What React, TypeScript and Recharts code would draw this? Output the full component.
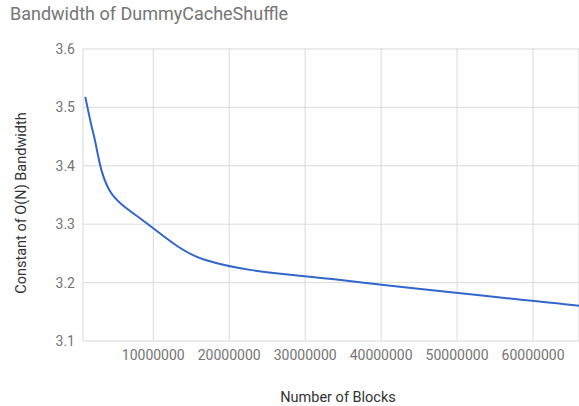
import { LineChart, Line, XAxis, YAxis, CartesianGrid } from 'recharts'

// 数据：块数量（2 的幂）与带宽常数
const blocks = [1048576, 2097152, 4194304, 8388608, 16777216, 33554432, 67108864]
const constants = [3.518, 3.456, 3.359, 3.309, 3.239, 3.206, 3.159]
const xTicks = [10000000, 20000000, 30000000, 40000000, 50000000, 60000000]
const yTicks = [3.1, 3.2, 3.3, 3.4, 3.5, 3.6]

const data = blocks.map((b, i) => ({ blocks: b, value: constants[i] }))

const FONT = 'Roboto, "Noto Sans", sans-serif'

// 平滑曲线：控制点沿相邻点方向，长度按本段长度的比例
function smoothCurve(context: any) {
  let pts: number[][] = []
  const f = 0.33
  const dir = (a: number[], b: number[]) => {
    const dx = b[0] - a[0]
    const dy = b[1] - a[1]
    const len = Math.hypot(dx, dy) || 1
    return [dx / len, dy / len]
  }
  return {
    areaStart() {},
    areaEnd() {},
    lineStart() { pts = [] },
    point(x: number, y: number) { pts.push([+x, +y]) },
    lineEnd() {
      const n = pts.length
      if (!n) return
      context.moveTo(pts[0][0], pts[0][1])
      for (let i = 0; i < n - 1; i++) {
        const p0 = pts[i - 1] || pts[i]
        const p1 = pts[i]
        const p2 = pts[i + 1]
        const p3 = pts[i + 2] || p2
        const h = Math.hypot(p2[0] - p1[0], p2[1] - p1[1]) * f
        const d1 = dir(p0, p2)
        const d2 = dir(p1, p3)
        context.bezierCurveTo(
          p1[0] + d1[0] * h, p1[1] + d1[1] * h,
          p2[0] - d2[0] * h, p2[1] - d2[1] * h,
          p2[0], p2[1]
        )
      }
    }
  }
}

export default function App() {
  return (
    <div style={{ position: 'absolute', left: 0, top: 0, width: 579, height: 406, background: '#fff', fontFamily: FONT }}>
      <div style={{ position: 'absolute', left: 10, top: 3, fontSize: 18, color: '#757575', whiteSpace: 'nowrap' }}>
        Bandwidth of DummyCacheShuffle
      </div>
      <div
        style={{
          position: 'absolute', left: 21, top: 203, fontSize: 14.5, color: '#333',
          whiteSpace: 'nowrap', transform: 'translate(-50%, -50%) rotate(-90deg)'
        }}
      >
        Constant of O(N) Bandwidth
      </div>
      <div
        style={{
          position: 'absolute', left: 338, top: 397, fontSize: 14.5, color: '#333',
          whiteSpace: 'nowrap', transform: 'translate(-50%, -50%)'
        }}
      >
        Number of Blocks
      </div>
      <LineChart width={579} height={406} data={data} margin={{ top: 49, right: 0, left: 43, bottom: 0 }}>
        <CartesianGrid stroke="#d9d9d9" strokeWidth={1} />
        <XAxis
          dataKey="blocks"
          type="number"
          domain={[750000, 66050000]}
          allowDataOverflow
          ticks={xTicks}
          tickLine={false}
          axisLine={false}
          height={65}
          tickMargin={3}
          tick={{ fontSize: 14, fill: '#757575', fontFamily: FONT }}
          interval={0}
        />
        <YAxis
          type="number"
          domain={[3.1, 3.6]}
          ticks={yTicks}
          tickFormatter={(v: number) => v.toFixed(1)}
          tickLine={false}
          axisLine={false}
          width={40}
          tick={{ fontSize: 14, fill: '#757575', fontFamily: FONT }}
        />
        <Line
          type={smoothCurve as any}
          dataKey="value"
          stroke="#3366cc"
          strokeWidth={2}
          dot={false}
          isAnimationActive={false}
        />
      </LineChart>
    </div>
  )
}
